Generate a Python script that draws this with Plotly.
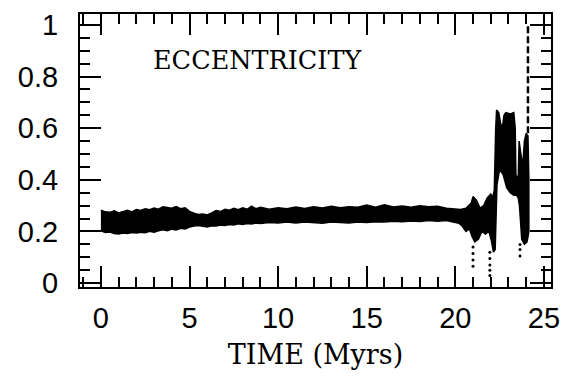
import plotly.graph_objects as go

# ---- data ----
# quasi-regular band (0-20 Myr): upper / lower envelope of eccentricity
band_t = [0, 0.25, 0.5, 0.75, 1, 1.25, 1.5, 1.75, 2, 2.25, 2.5, 2.75, 3, 3.25, 3.5, 3.75, 4,
          4.25, 4.5, 4.75, 5, 5.25, 5.5, 5.75, 6, 6.25, 6.5, 6.75, 7, 7.25, 7.5, 7.75, 8,
          8.25, 8.5, 8.75, 9, 9.5, 10, 10.5, 11, 11.5, 12, 12.5, 13, 13.5, 14, 14.5, 15,
          15.5, 16, 16.5, 17, 17.5, 18, 18.5, 19, 19.5, 20]
band_up = [0.282, 0.276, 0.274, 0.28, 0.272, 0.278, 0.282, 0.276, 0.285, 0.281, 0.288, 0.284,
           0.291, 0.286, 0.296, 0.293, 0.29, 0.296, 0.288, 0.292, 0.278, 0.271, 0.266, 0.268,
           0.264, 0.272, 0.281, 0.277, 0.286, 0.282, 0.29, 0.284, 0.292, 0.286, 0.298, 0.288,
           0.294, 0.286, 0.292, 0.288, 0.295, 0.289, 0.296, 0.291, 0.298, 0.292, 0.296, 0.294,
           0.302, 0.294, 0.303, 0.295, 0.299, 0.294, 0.3, 0.296, 0.298, 0.29, 0.288]
band_lo = [0.203, 0.196, 0.198, 0.192, 0.19, 0.194, 0.192, 0.196, 0.194, 0.197, 0.195, 0.201,
           0.197, 0.203, 0.207, 0.203, 0.209, 0.206, 0.212, 0.21, 0.217, 0.221, 0.223, 0.219,
           0.217, 0.222, 0.221, 0.225, 0.223, 0.227, 0.225, 0.23, 0.227, 0.231, 0.229, 0.233,
           0.231, 0.235, 0.233, 0.237, 0.233, 0.237, 0.234, 0.232, 0.237, 0.235, 0.233, 0.237,
           0.235, 0.238, 0.237, 0.24, 0.238, 0.241, 0.239, 0.242, 0.24, 0.242, 0.235]

# chaotic phase (20-24.2 Myr): upper envelope left->right, lower envelope right->left
chaos_up_t = [20.3, 20.6, 20.9, 21.0, 21.2, 21.4, 21.6, 21.8, 22.0, 22.1, 22.2, 22.28, 22.33,
              22.45, 22.55, 22.65, 22.75, 22.85, 23.1, 23.3, 23.38, 23.42, 23.55, 23.6, 23.7,
              23.8, 23.9, 24.0, 24.1, 24.15]
chaos_up_e = [0.285, 0.29, 0.31, 0.335, 0.32, 0.29, 0.30, 0.33, 0.345, 0.33, 0.36, 0.6, 0.67,
              0.66, 0.62, 0.6, 0.65, 0.66, 0.655, 0.66, 0.6, 0.42, 0.4, 0.55, 0.5, 0.45, 0.55,
              0.58, 0.57, 0.4]
chaos_lo_t = [24.15, 24.05, 23.9, 23.75, 23.62, 23.55, 23.45, 23.3, 23.1, 22.9, 22.7, 22.5,
              22.35, 22.3, 22.25, 22.15, 22.05, 21.9, 21.7, 21.5, 21.3, 21.1, 20.95, 20.8,
              20.6, 20.4, 20.2]
chaos_lo_e = [0.2, 0.16, 0.15, 0.17, 0.3, 0.33, 0.34, 0.34, 0.35, 0.37, 0.42, 0.44, 0.38, 0.2,
              0.13, 0.12, 0.16, 0.2, 0.19, 0.2, 0.17, 0.16, 0.18, 0.21, 0.2, 0.22, 0.232]

# isolated dots below the band
dots_t = [21.0, 21.0, 21.0, 21.0, 21.95, 21.95, 21.95, 21.95, 21.95, 23.65, 23.65, 23.65]
dots_e = [0.14, 0.115, 0.09, 0.065, 0.12, 0.095, 0.07, 0.05, 0.03, 0.15, 0.13, 0.105]

# final excursion (dashed)
spike_t = [24.1, 24.1]
spike_e = [0.58, 1.0]

x_ticks = [0, 5, 10, 15, 20, 25]
y_ticks = [0, 0.2, 0.4, 0.6, 0.8, 1]
y_ticktext = ["0", "0.2", "0.4", "0.6", "0.8", "1"]

# ---- figure ----
poly_x = band_t + chaos_up_t + chaos_lo_t + band_t[::-1]
poly_y = band_up + chaos_up_e + chaos_lo_e + band_lo[::-1]

fig = go.Figure()
fig.add_trace(go.Scatter(x=poly_x, y=poly_y, mode="lines", fill="toself",
                         fillcolor="black", line=dict(color="black", width=1.5),
                         hoverinfo="skip", showlegend=False))
fig.add_trace(go.Scatter(x=dots_t, y=dots_e, mode="markers",
                         marker=dict(color="black", size=3), showlegend=False))
fig.add_trace(go.Scatter(x=spike_t, y=spike_e, mode="lines",
                         line=dict(color="black", width=2.5, dash="7px,3px"),
                         showlegend=False))

fig.add_annotation(x=2.85, y=0.865, xref="x", yref="y", text="ECCENTRICITY",
                   showarrow=False, xanchor="left", yanchor="middle",
                   font=dict(family="DejaVu Serif", size=25.5, color="black"))

axis_common = dict(ticks="inside", mirror="allticks", showline=True, linecolor="black",
                   linewidth=2, tickcolor="black", tickwidth=1.5, ticklen=21,
                   showgrid=False, zeroline=False,
                   tickfont=dict(family="Liberation Sans", size=29, color="black"))

fig.update_xaxes(range=[-1.18, 25.4], tickvals=x_ticks, ticklabelstandoff=4,
                 minor=dict(dtick=1, ticks="inside", ticklen=10, tickwidth=1.5,
                            tickcolor="black", showgrid=False),
                 title=dict(text="TIME (Myrs)", standoff=12,
                            font=dict(family="DejaVu Serif", size=27, color="black")),
                 **axis_common)
fig.update_yaxes(range=[-0.015, 1.042], tickvals=y_ticks, ticktext=y_ticktext,
                 ticklabelstandoff=14,
                 minor=dict(dtick=0.05, ticks="inside", ticklen=10, tickwidth=1.5,
                            tickcolor="black", showgrid=False),
                 **axis_common)

fig.update_layout(width=569, height=377, margin=dict(l=80, r=16, t=9, b=90),
                  paper_bgcolor="white", plot_bgcolor="white")

fig.write_html("out.html")
